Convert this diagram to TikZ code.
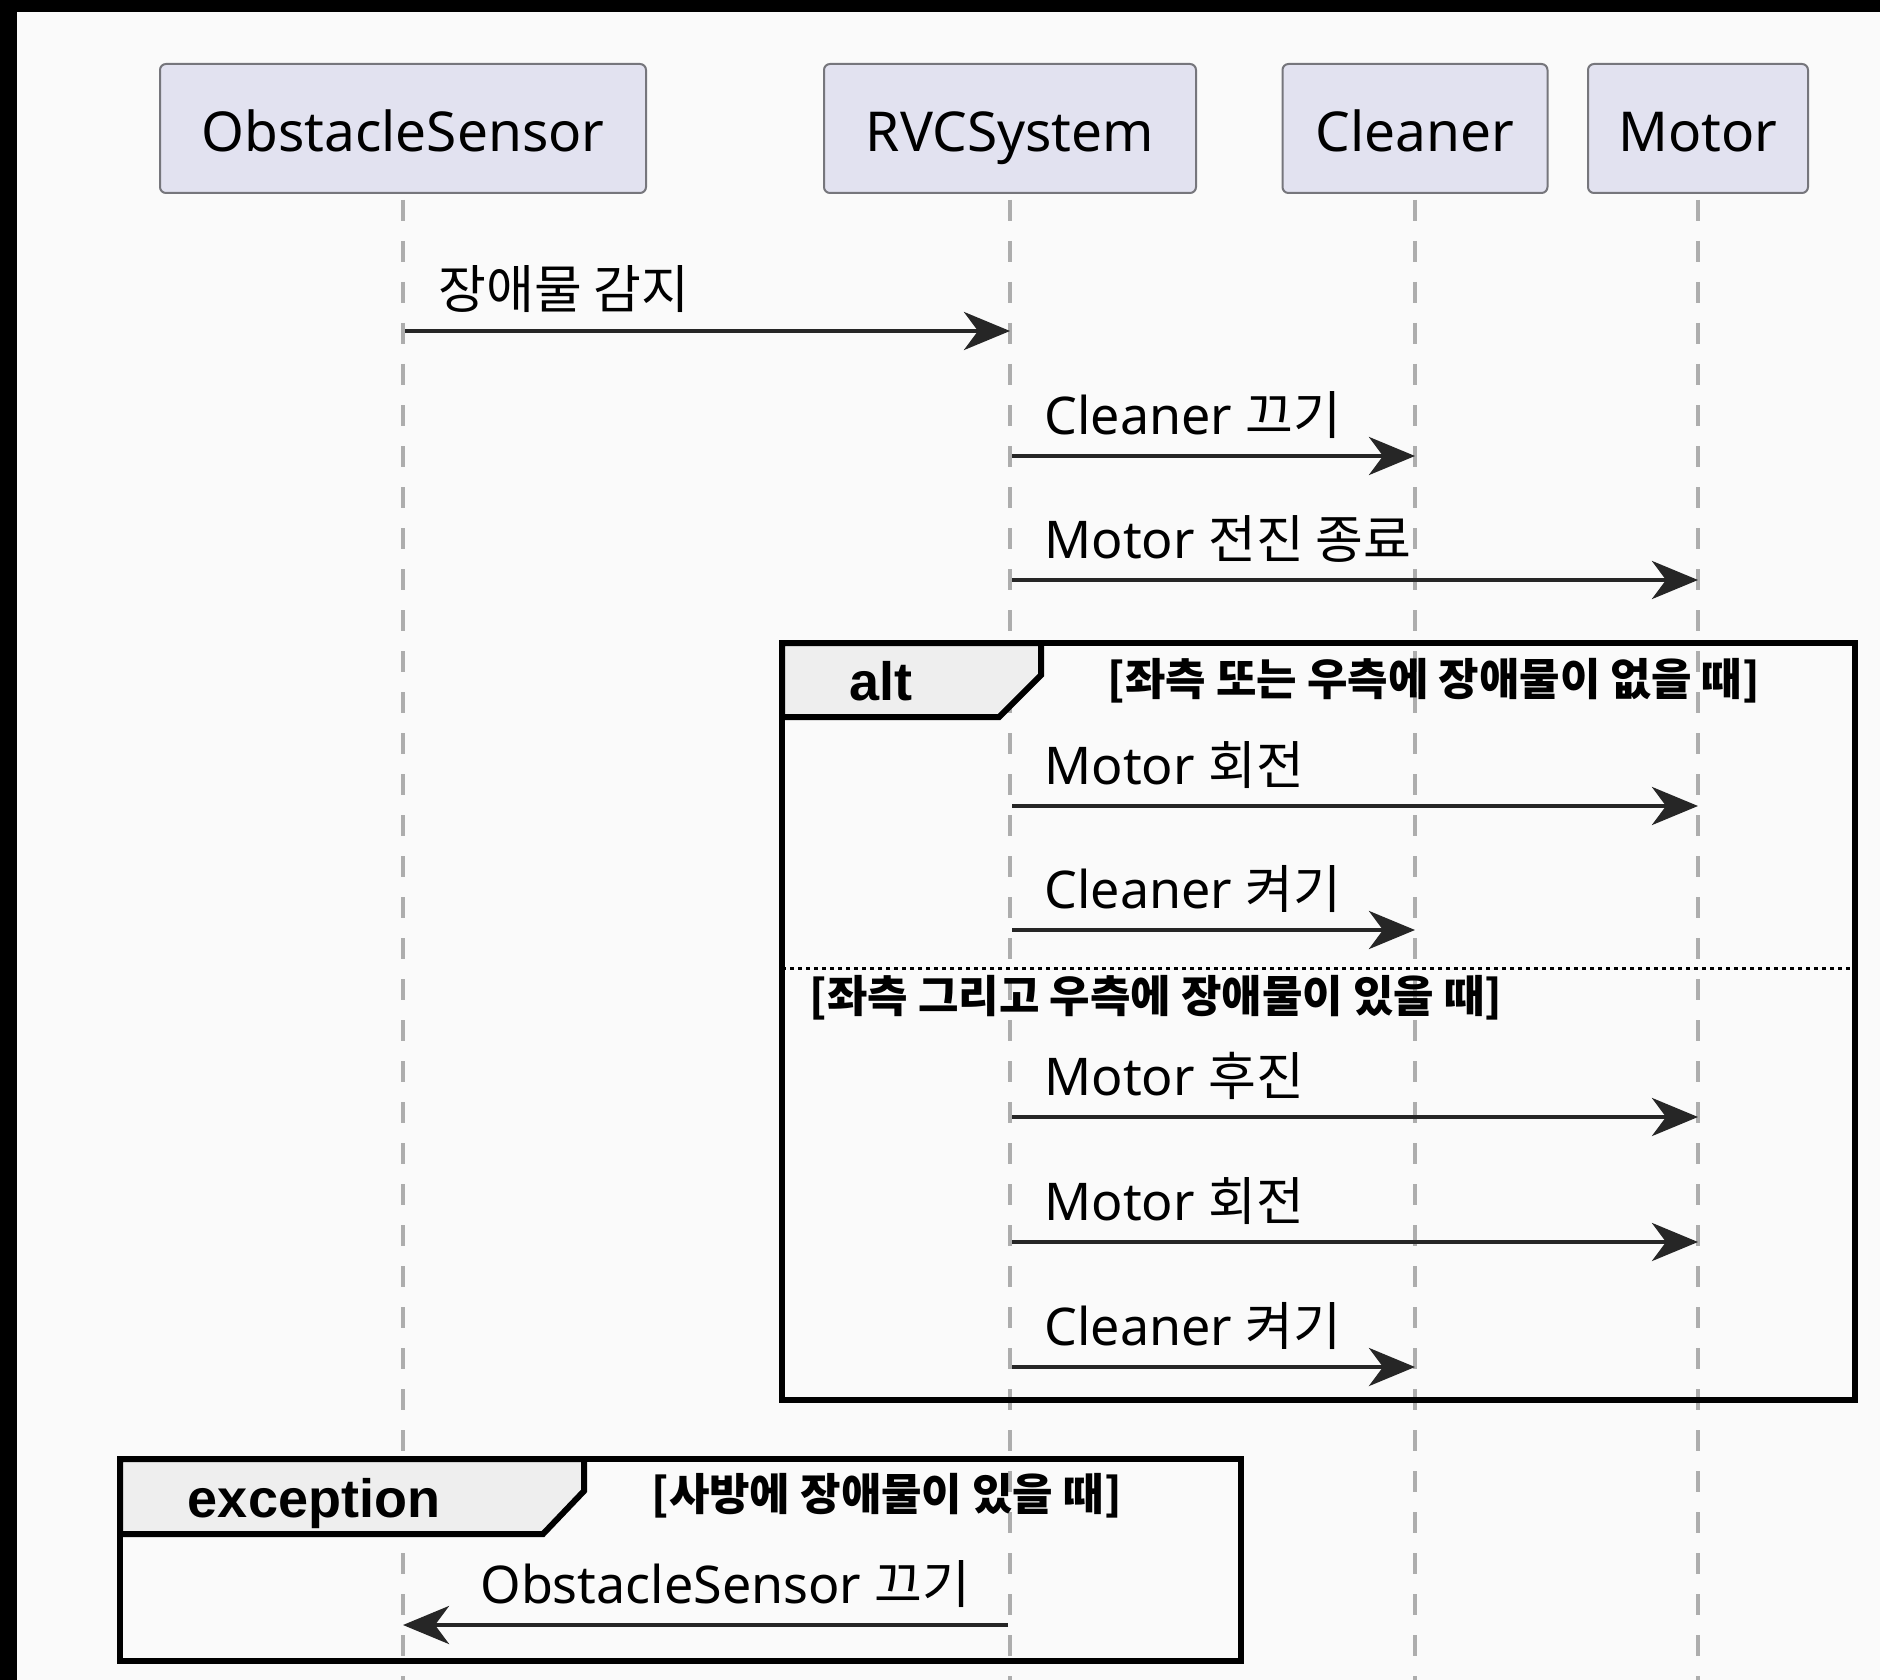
\documentclass[tikz,border=0pt]{standalone}
\usepackage{fontspec}
\setmainfont{Noto Sans}
\newfontfamily\kr{Noto Sans CJK KR}
\newfontfamily\latb{Liberation Sans}
\usetikzlibrary{arrows.meta}
\definecolor{bgcol}{HTML}{FAFAFA}
\definecolor{partfill}{HTML}{E2E2F0}
\definecolor{partdraw}{HTML}{76767C}
\definecolor{lifecol}{HTML}{ADADAD}
\definecolor{msgcol}{HTML}{262626}
\definecolor{tabfill}{HTML}{EEEEEE}
\tikzset{
  part/.style={draw=partdraw, fill=partfill, line width=1pt, rounded corners=3pt,
    minimum height=64.5pt, inner sep=0pt, font=\fontsize{27.5}{30}\selectfont,
    text height=23pt, text depth=0pt},
  lifeline/.style={draw=lifecol, line width=2pt, dash pattern=on 10.5pt off 10pt},
  msg/.style={draw=msgcol, line width=2.2pt, -{Stealth[length=23pt,width=19pt,inset=7pt]}},
  lbl/.style={inner sep=0pt, anchor=base west, font=\fontsize{26}{30}\selectfont},
  guard/.style={inner sep=0pt, anchor=base west, font=\kr\bfseries\fontsize{22}{26}\selectfont},
  framebox/.style={draw=black, line width=3pt},
  tabbox/.style={draw=black, fill=tabfill, line width=3pt, line join=miter},
  tabtext/.style={inner sep=0pt, anchor=base, font=\latb\bfseries\fontsize{27}{30}\selectfont},
  sepline/.style={draw=black, line width=1.5pt, dash pattern=on 2pt off 2pt}
}
\begin{document}
\begin{tikzpicture}[x=0.5pt,y=-0.5pt]
\useasboundingbox (0,0) rectangle (1880,1680);
\fill[black] (0,0) rectangle (1880,1680);
\fill[bgcol] (17,12) rectangle (1880,1680);

% participants
\node[part, minimum width=243pt] (os) at (403,128.5) {ObstacleSensor};
\node[part, minimum width=186pt] (rvc) at (1010,128.5) {RVCSystem};
\node[part, minimum width=132.5pt] (cl) at (1415,128.5) {Cleaner};
\node[part, minimum width=110pt] (mo) at (1698,128.5) {Motor};

% lifeline ends
\coordinate (osE) at (403,1680);
\coordinate (rvcE) at (1010,1680);
\coordinate (clE) at (1415,1680);
\coordinate (moE) at (1698,1680);
\draw[lifeline] ([yshift=-3pt]os.south) -- (osE);
\draw[lifeline] ([yshift=-3pt]rvc.south) -- (rvcE);
\draw[lifeline] ([yshift=-3pt]cl.south) -- (clE);
\draw[lifeline] ([yshift=-3pt]mo.south) -- (moE);

% frames
\draw[framebox] (782,643) rectangle (1855,1400);
\draw[tabbox] (782,643) -- (1041,643) -- (1041,675) -- (999,717) -- (782,717) -- cycle;
\node[tabtext] (altt) at (881,700) {alt};
\node[guard] (g1) at (1107,695) {[좌측 또는 우측에 장애물이 없을 때]};
\draw[sepline] (782,968) -- (1855,968);
\node[guard] (g2) at (809,1012) {[좌측 그리고 우측에 장애물이 있을 때]};

\draw[framebox] (120,1459) rectangle (1241,1661);
\draw[tabbox] (120,1459) -- (584,1459) -- (584,1491) -- (543,1534) -- (120,1534) -- cycle;
\node[tabtext] (exct) at (314,1517) {exception};
\node[guard] (g3) at (651,1510) {[사방에 장애물이 있을 때]};

% message endpoints
\coordinate (s1) at (405,331);  \coordinate (t1) at (1010,331);
\coordinate (s2) at (1012,456); \coordinate (t2) at (1415,456);
\coordinate (s3) at (1012,580); \coordinate (t3) at (1698,580);
\coordinate (s4) at (1012,806); \coordinate (t4) at (1698,806);
\coordinate (s5) at (1012,930); \coordinate (t5) at (1415,930);
\coordinate (s6) at (1012,1117); \coordinate (t6) at (1698,1117);
\coordinate (s7) at (1012,1242); \coordinate (t7) at (1698,1242);
\coordinate (s8) at (1012,1367); \coordinate (t8) at (1415,1367);
\coordinate (s9) at (1008,1625); \coordinate (t9) at (403,1625);

\draw[msg] (s1) -- (t1);
\draw[msg] (s2) -- (t2);
\draw[msg] (s3) -- (t3);
\draw[msg] (s4) -- (t4);
\draw[msg] (s5) -- (t5);
\draw[msg] (s6) -- (t6);
\draw[msg] (s7) -- (t7);
\draw[msg] (s8) -- (t8);
\draw[msg] (s9) -- (t9);

\node[lbl] (m1) at (438,309) {{\kr 장애물 감지}};
\node[lbl] (m2) at (1044,434) {Cleaner {\kr 끄기}};
\node[lbl] (m3) at (1044,558) {Motor {\kr 전진 종료}};
\node[lbl] (m4) at (1044,784) {Motor {\kr 회전}};
\node[lbl] (m5) at (1044,908) {Cleaner {\kr 켜기}};
\node[lbl] (m6) at (1044,1095) {Motor {\kr 후진}};
\node[lbl] (m7) at (1044,1220) {Motor {\kr 회전}};
\node[lbl] (m8) at (1044,1345) {Cleaner {\kr 켜기}};
\node[lbl] (m9) at (480,1603) {ObstacleSensor {\kr 끄기}};
\end{tikzpicture}
\end{document}
